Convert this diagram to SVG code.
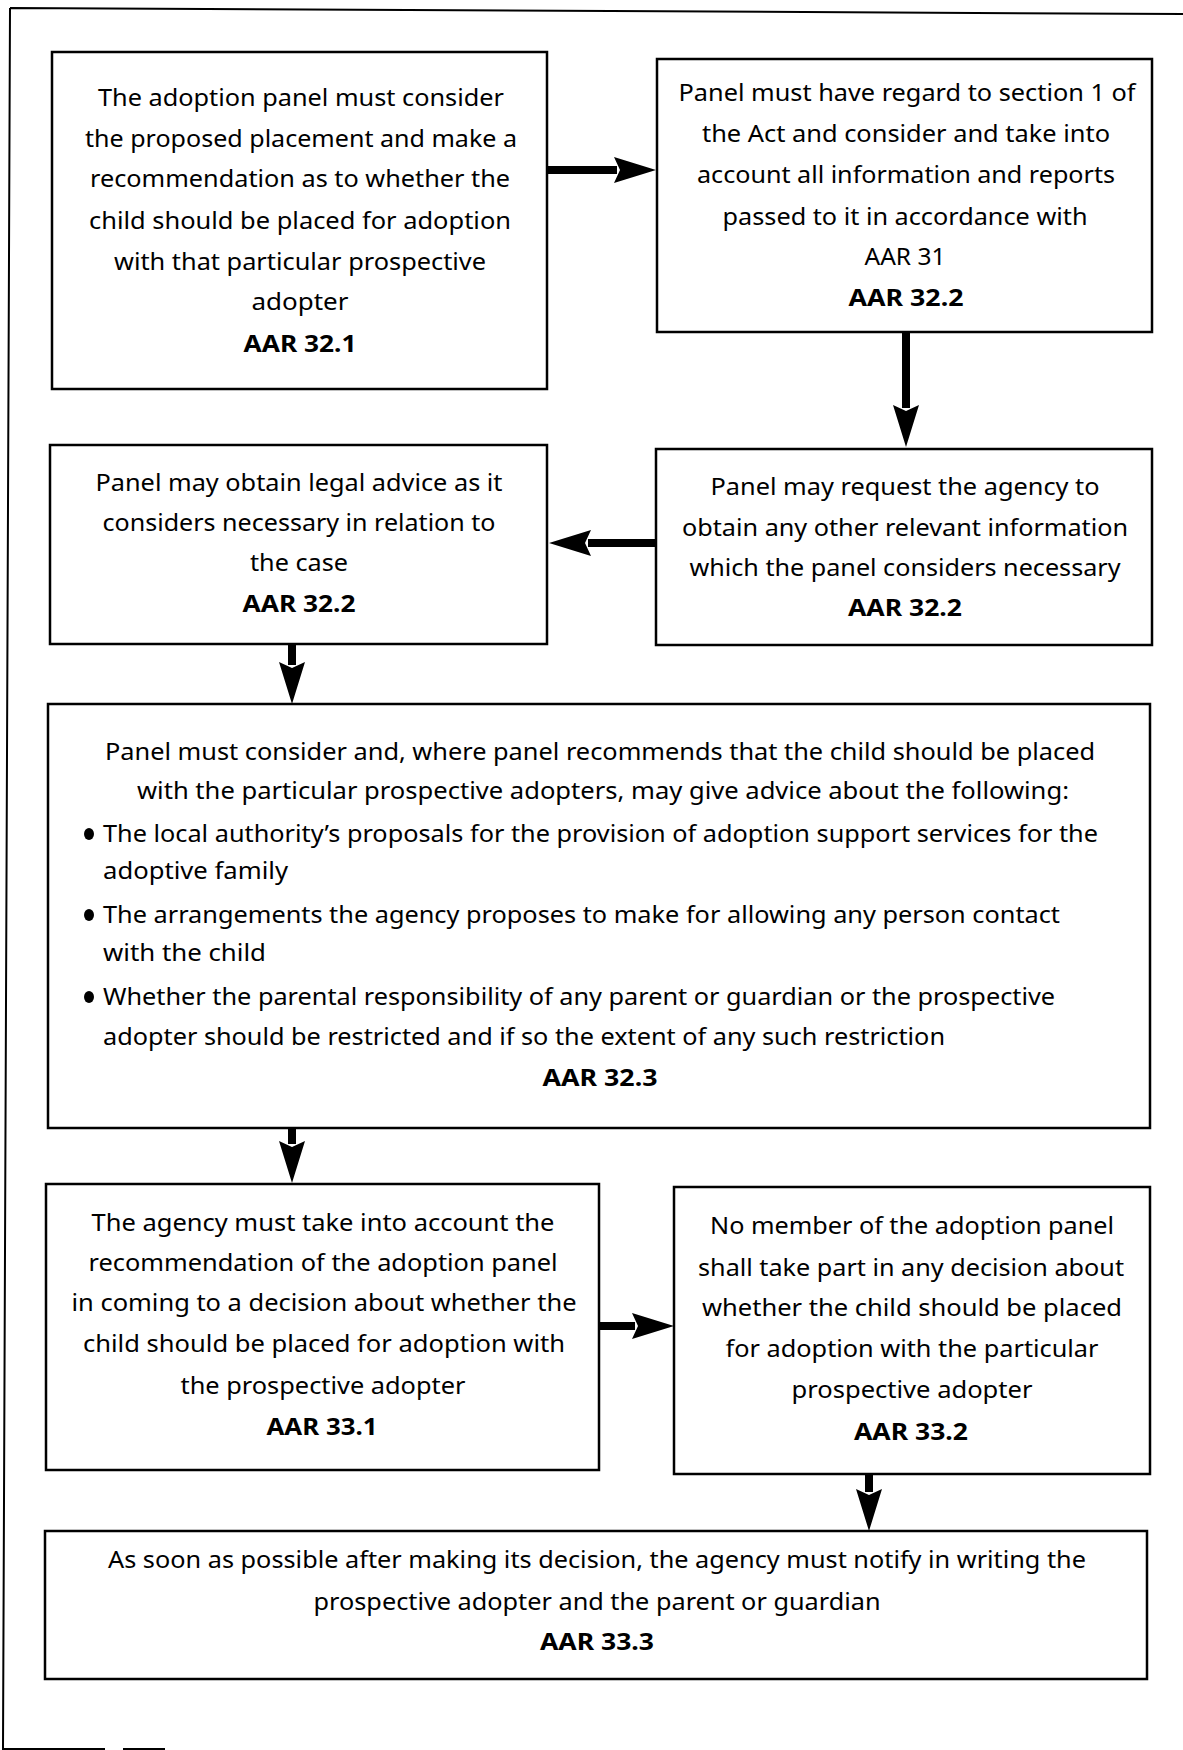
<svg xmlns="http://www.w3.org/2000/svg" width="1183" height="1750" viewBox="0 0 1183 1750">
<defs>
<style>
.box{fill:#fff;stroke:#000;stroke-width:2.5}
.t{font-family:"Noto Sans","Liberation Sans",sans-serif;font-size:24px;fill:#000;text-anchor:middle}
.l{text-anchor:start}
.b{font-weight:bold}
.c{stroke:#000;stroke-width:8;fill:none;marker-end:url(#ah)}
.frame{stroke:#000;stroke-width:2;fill:none}
</style>
<marker id="ah" markerUnits="userSpaceOnUse" markerWidth="44" markerHeight="28" refX="3" refY="14" orient="auto">
<path d="M0,1 L42,14 L0,27 L6,14 Z" fill="#000"/>
</marker>
</defs>
<rect width="1183" height="1750" fill="#fff"/>
<path class="frame" d="M10,8 L1183,14 M10,8 L3,1749 L105,1749 M123,1749 L165,1749"/>

<g id="connectors">
<line class="c" x1="547" y1="170" x2="617" y2="170"/>
<line class="c" x1="906" y1="332" x2="906" y2="408"/>
<line class="c" x1="656" y1="543" x2="588" y2="543"/>
<line class="c" x1="292" y1="644" x2="292" y2="665"/>
<line class="c" x1="292" y1="1129" x2="292" y2="1144"/>
<line class="c" x1="599" y1="1326" x2="635" y2="1326"/>
<line class="c" x1="869" y1="1474" x2="869" y2="1492"/>
</g>

<g id="n1">
<rect class="box" x="52" y="52" width="495" height="337"/>
<text class="t" x="301" y="106" textLength="406" lengthAdjust="spacingAndGlyphs">The adoption panel must consider</text>
<text class="t" x="301" y="147" textLength="432" lengthAdjust="spacingAndGlyphs">the proposed placement and make a</text>
<text class="t" x="300" y="187" textLength="420" lengthAdjust="spacingAndGlyphs">recommendation as to whether the</text>
<text class="t" x="300" y="229" textLength="422" lengthAdjust="spacingAndGlyphs">child should be placed for adoption</text>
<text class="t" x="300" y="270" textLength="372" lengthAdjust="spacingAndGlyphs">with that particular prospective</text>
<text class="t" x="300" y="310" textLength="97" lengthAdjust="spacingAndGlyphs">adopter</text>
<text class="t b" x="300" y="352" textLength="113" lengthAdjust="spacingAndGlyphs">AAR 32.1</text>
</g>

<g id="n2">
<rect class="box" x="657" y="59" width="495" height="273"/>
<text class="t" x="907" y="101" textLength="457" lengthAdjust="spacingAndGlyphs">Panel must have regard to section 1 of</text>
<text class="t" x="906" y="142" textLength="408" lengthAdjust="spacingAndGlyphs">the Act and consider and take into</text>
<text class="t" x="906" y="183" textLength="418" lengthAdjust="spacingAndGlyphs">account all information and reports</text>
<text class="t" x="905" y="225" textLength="365" lengthAdjust="spacingAndGlyphs">passed to it in accordance with</text>
<text class="t" x="905" y="265" textLength="81" lengthAdjust="spacingAndGlyphs">AAR 31</text>
<text class="t b" x="906" y="306" textLength="115" lengthAdjust="spacingAndGlyphs">AAR 32.2</text>
</g>

<g id="n3">
<rect class="box" x="50" y="445" width="497" height="199"/>
<text class="t" x="299" y="491" textLength="407" lengthAdjust="spacingAndGlyphs">Panel may obtain legal advice as it</text>
<text class="t" x="299" y="531" textLength="393" lengthAdjust="spacingAndGlyphs">considers necessary in relation to</text>
<text class="t" x="299" y="571" textLength="98" lengthAdjust="spacingAndGlyphs">the case</text>
<text class="t b" x="299" y="612" textLength="113" lengthAdjust="spacingAndGlyphs">AAR 32.2</text>
</g>

<g id="n4">
<rect class="box" x="656" y="449" width="496" height="196"/>
<text class="t" x="905" y="495" textLength="389" lengthAdjust="spacingAndGlyphs">Panel may request the agency to</text>
<text class="t" x="905" y="536" textLength="446" lengthAdjust="spacingAndGlyphs">obtain any other relevant information</text>
<text class="t" x="905" y="576" textLength="431" lengthAdjust="spacingAndGlyphs">which the panel considers necessary</text>
<text class="t b" x="905" y="616" textLength="114" lengthAdjust="spacingAndGlyphs">AAR 32.2</text>
</g>

<g id="n5">
<rect class="box" x="48" y="704" width="1102" height="424"/>
<text class="t" x="600" y="760" textLength="990" lengthAdjust="spacingAndGlyphs">Panel must consider and, where panel recommends that the child should be placed</text>
<text class="t" x="603" y="799" textLength="932" lengthAdjust="spacingAndGlyphs">with the particular prospective adopters, may give advice about the following:</text>
<ellipse cx="89" cy="834" rx="5" ry="6"/>
<text class="t l" x="103" y="842" textLength="995" lengthAdjust="spacingAndGlyphs">The local authority’s proposals for the provision of adoption support services for the</text>
<text class="t l" x="103" y="879" textLength="185" lengthAdjust="spacingAndGlyphs">adoptive family</text>
<ellipse cx="89" cy="915" rx="5" ry="6"/>
<text class="t l" x="103" y="923" textLength="957" lengthAdjust="spacingAndGlyphs">The arrangements the agency proposes to make for allowing any person contact</text>
<text class="t l" x="103" y="961" textLength="163" lengthAdjust="spacingAndGlyphs">with the child</text>
<ellipse cx="89" cy="997" rx="5" ry="6"/>
<text class="t l" x="103" y="1005" textLength="952" lengthAdjust="spacingAndGlyphs">Whether the parental responsibility of any parent or guardian or the prospective</text>
<text class="t l" x="103" y="1045" textLength="842" lengthAdjust="spacingAndGlyphs">adopter should be restricted and if so the extent of any such restriction</text>
<text class="t b" x="600" y="1086" textLength="115" lengthAdjust="spacingAndGlyphs">AAR 32.3</text>
</g>

<g id="n6">
<rect class="box" x="46" y="1184" width="553" height="286"/>
<text class="t" x="323" y="1231" textLength="463" lengthAdjust="spacingAndGlyphs">The agency must take into account the</text>
<text class="t" x="323" y="1271" textLength="469" lengthAdjust="spacingAndGlyphs">recommendation of the adoption panel</text>
<text class="t" x="324" y="1311" textLength="505" lengthAdjust="spacingAndGlyphs">in coming to a decision about whether the</text>
<text class="t" x="324" y="1352" textLength="482" lengthAdjust="spacingAndGlyphs">child should be placed for adoption with</text>
<text class="t" x="323" y="1394" textLength="285" lengthAdjust="spacingAndGlyphs">the prospective adopter</text>
<text class="t b" x="322" y="1435" textLength="111" lengthAdjust="spacingAndGlyphs">AAR 33.1</text>
</g>

<g id="n7">
<rect class="box" x="674" y="1187" width="476" height="287"/>
<text class="t" x="912" y="1234" textLength="404" lengthAdjust="spacingAndGlyphs">No member of the adoption panel</text>
<text class="t" x="911" y="1276" textLength="426" lengthAdjust="spacingAndGlyphs">shall take part in any decision about</text>
<text class="t" x="912" y="1316" textLength="420" lengthAdjust="spacingAndGlyphs">whether the child should be placed</text>
<text class="t" x="912" y="1357" textLength="373" lengthAdjust="spacingAndGlyphs">for adoption with the particular</text>
<text class="t" x="912" y="1398" textLength="241" lengthAdjust="spacingAndGlyphs">prospective adopter</text>
<text class="t b" x="911" y="1440" textLength="114" lengthAdjust="spacingAndGlyphs">AAR 33.2</text>
</g>

<g id="n8">
<rect class="box" x="45" y="1531" width="1102" height="148"/>
<text class="t" x="597" y="1568" textLength="978" lengthAdjust="spacingAndGlyphs">As soon as possible after making its decision, the agency must notify in writing the</text>
<text class="t" x="597" y="1610" textLength="567" lengthAdjust="spacingAndGlyphs">prospective adopter and the parent or guardian</text>
<text class="t b" x="597" y="1650" textLength="114" lengthAdjust="spacingAndGlyphs">AAR 33.3</text>
</g>
</svg>
